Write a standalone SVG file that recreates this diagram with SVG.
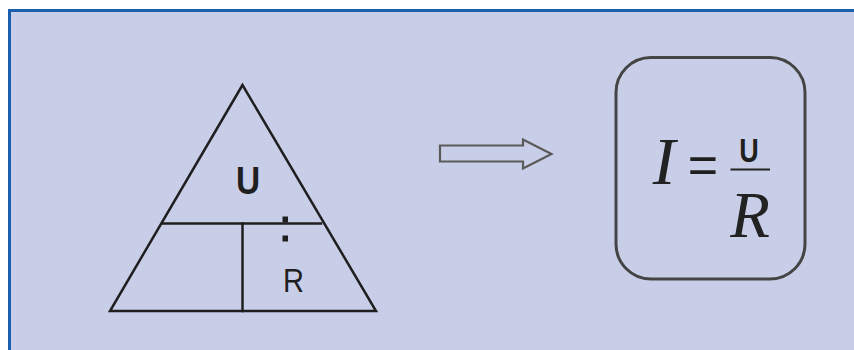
<svg xmlns="http://www.w3.org/2000/svg" width="854" height="350" viewBox="0 0 854 350">
  <style>
    .ln { stroke: #1f1f1f; stroke-width: 2.5; fill: none; stroke-linecap: square; }
    .sans { font-family: "Liberation Sans", Arial, sans-serif; fill: #1f1f1f; }
    .serif { font-family: "Liberation Serif", "Times New Roman", serif; font-style: italic; fill: #222; }
    .box { fill: none; stroke: #444; stroke-width: 3; }
    .arrow { fill: none; stroke: #5a5a5a; stroke-width: 2.2; stroke-linejoin: miter; }
  </style>
  <rect x="0" y="0" width="854" height="350" fill="#ffffff"/>
  <rect x="8" y="9" width="846" height="341" fill="#c9cee8"/>
  <line x1="8" y1="10.5" x2="854" y2="10.5" stroke="#1a5ead" stroke-width="3"/>
  <line x1="9.5" y1="9" x2="9.5" y2="350" stroke="#1a5ead" stroke-width="3"/>

  <g id="triangle">
    <polygon class="ln" points="242.5,85 110,311 376,311" stroke-linejoin="miter"/>
    <line class="ln" x1="163" y1="223.5" x2="321" y2="223.5"/>
    <line class="ln" x1="242.5" y1="223.5" x2="242.5" y2="311"/>
    <rect x="282.5" y="216.5" width="5.5" height="6" fill="#1f1f1f"/>
    <rect x="282.5" y="235.5" width="5.5" height="6" fill="#1f1f1f"/>
    <text class="sans" transform="translate(248,193.5) scale(0.88,1)" font-size="38" font-weight="bold" text-anchor="middle">U</text>
    <text class="sans" transform="translate(293.5,291.5) scale(0.88,1)" font-size="33" text-anchor="middle">R</text>
  </g>

  <g id="connectors">
    <polygon class="arrow" points="440,145.5 523,145.5 523,139.5 551.5,154 523,168.5 523,161.5 440,161.5"/>
  </g>

  <g id="formula">
    <rect class="box" x="616" y="57.5" width="189" height="221.5" rx="35" ry="35"/>
    <text class="serif" x="664" y="184" font-size="68" text-anchor="middle">I</text>
    <text class="sans" x="703" y="183" font-size="52" fill="#333" text-anchor="middle">=</text>
    <line x1="730.5" y1="169.5" x2="770" y2="169.5" stroke="#222" stroke-width="2"/>
    <text class="sans" transform="translate(749,162) scale(0.9,1.1)" font-size="30" font-weight="bold" text-anchor="middle">U</text>
    <text class="serif" x="750" y="236.5" font-size="65" text-anchor="middle">R</text>
  </g>
</svg>
